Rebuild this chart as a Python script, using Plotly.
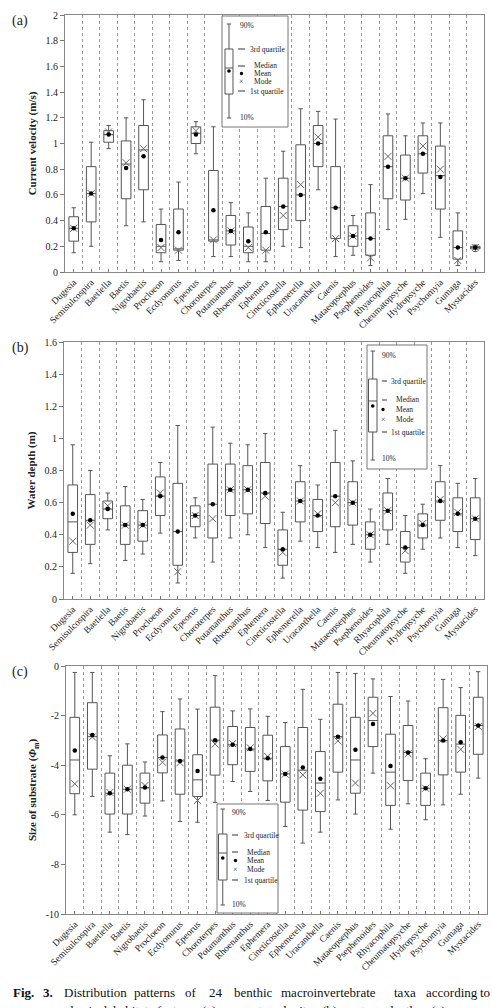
import plotly.graph_objects as go

W, H = 492, 1008
FONT = "Liberation Serif"

taxa = ["Dugesia", "Semisulcospira", "Baetiella", "Baetis", "Nigrobaetis", "Procloeon",
        "Ecdyonurus", "Epeorus", "Choroterpes", "Potamanthus", "Rhoenanthus", "Ephemera",
        "Cincticostella", "Ephemerella", "Uracanthella", "Caenis", "Mataeopsephus",
        "Psephenoides", "Rhyacophila", "Cheumatopsyche", "Hydropsyche", "Psychomyia",
        "Gumaga", "Mystacides"]

# (a) current velocity (m/s)
vel_p10 = [0.15, 0.20, 0.96, 0.36, 0.39, 0.08, 0.09, 0.92, 0.12, 0.12, 0.08, 0.08, 0.20, 0.19, 0.64, 0.12, 0.13, 0.05, 0.33, 0.41, 0.61, 0.27, 0.05, 0.16]
vel_q1 = [0.24, 0.39, 1.01, 0.57, 0.64, 0.15, 0.17, 1.00, 0.24, 0.21, 0.15, 0.17, 0.33, 0.40, 0.82, 0.26, 0.20, 0.13, 0.57, 0.56, 0.77, 0.49, 0.10, 0.18]
vel_med = [0.34, 0.61, 1.07, 0.84, 0.95, 0.20, 0.18, 1.08, 0.25, 0.32, 0.20, 0.30, 0.51, 0.60, 1.00, 0.50, 0.28, 0.26, 0.82, 0.73, 0.92, 0.75, 0.19, 0.19]
vel_q3 = [0.43, 0.82, 1.10, 1.02, 1.14, 0.37, 0.49, 1.13, 0.79, 0.44, 0.35, 0.51, 0.73, 0.99, 1.14, 0.82, 0.36, 0.46, 1.06, 0.91, 1.06, 0.98, 0.32, 0.20]
vel_p90 = [0.50, 1.01, 1.14, 1.20, 1.34, 0.49, 0.70, 1.17, 1.13, 0.54, 0.46, 0.73, 0.94, 1.27, 1.25, 1.19, 0.44, 0.68, 1.23, 1.06, 1.16, 1.16, 0.46, 0.21]
vel_mean = [0.34, 0.61, 1.07, 0.81, 0.90, 0.25, 0.31, 1.07, 0.48, 0.32, 0.24, 0.31, 0.51, 0.60, 1.00, 0.50, 0.28, 0.26, 0.82, 0.73, 0.92, 0.74, 0.19, 0.19]
vel_mode = [0.34, 0.61, 1.09, 0.85, 0.96, 0.19, 0.17, 1.10, 0.25, 0.32, 0.19, 0.17, 0.44, 0.68, 1.05, 0.26, 0.28, 0.11, 0.90, 0.73, 0.98, 0.80, 0.09, 0.19]

# (b) water depth (m)
dep_p10 = [0.16, 0.22, 0.43, 0.24, 0.28, 0.41, 0.10, 0.38, 0.23, 0.38, 0.40, 0.32, 0.13, 0.36, 0.32, 0.29, 0.34, 0.23, 0.34, 0.16, 0.31, 0.38, 0.32, 0.27]
dep_q1 = [0.29, 0.34, 0.50, 0.34, 0.36, 0.52, 0.21, 0.45, 0.38, 0.52, 0.53, 0.47, 0.21, 0.48, 0.42, 0.45, 0.46, 0.31, 0.43, 0.23, 0.38, 0.49, 0.42, 0.37]
dep_med = [0.48, 0.49, 0.56, 0.46, 0.46, 0.64, 0.42, 0.52, 0.59, 0.68, 0.68, 0.66, 0.31, 0.61, 0.52, 0.64, 0.60, 0.40, 0.55, 0.32, 0.46, 0.61, 0.53, 0.50]
dep_q3 = [0.71, 0.65, 0.61, 0.58, 0.55, 0.76, 0.72, 0.58, 0.84, 0.84, 0.83, 0.85, 0.43, 0.73, 0.62, 0.85, 0.73, 0.48, 0.66, 0.42, 0.53, 0.73, 0.63, 0.63]
dep_p90 = [0.96, 0.80, 0.66, 0.70, 0.62, 0.85, 1.08, 0.63, 1.07, 0.97, 0.96, 1.03, 0.54, 0.83, 0.71, 1.05, 0.86, 0.56, 0.75, 0.52, 0.59, 0.83, 0.72, 0.75]
dep_mean = [0.53, 0.49, 0.56, 0.46, 0.46, 0.64, 0.42, 0.52, 0.59, 0.68, 0.68, 0.66, 0.31, 0.61, 0.52, 0.64, 0.60, 0.40, 0.55, 0.32, 0.46, 0.61, 0.53, 0.50]
dep_mode = [0.36, 0.46, 0.58, 0.46, 0.46, 0.66, 0.17, 0.52, 0.50, 0.68, 0.68, 0.64, 0.29, 0.61, 0.53, 0.60, 0.60, 0.40, 0.55, 0.30, 0.47, 0.62, 0.54, 0.50]

# (c) size of substrate (phi_m)
sub_p10 = [-6.00, -5.26, -6.70, -6.80, -6.05, -5.44, -6.27, -6.30, -5.50, -4.66, -5.06, -5.42, -6.47, -7.14, -6.70, -5.40, -5.97, -4.32, -6.58, -5.56, -6.20, -5.60, -5.17, -4.52]
sub_q1 = [-5.15, -4.16, -5.97, -5.97, -5.53, -4.31, -5.17, -5.26, -4.40, -3.98, -4.25, -4.63, -5.49, -5.81, -5.87, -4.28, -5.13, -3.25, -5.62, -4.62, -5.62, -4.39, -4.28, -3.56]
sub_med = [-3.79, -2.85, -5.13, -4.97, -4.90, -3.69, -3.83, -4.59, -2.99, -3.18, -3.35, -3.72, -4.35, -4.20, -4.72, -2.85, -3.79, -2.20, -4.28, -3.49, -4.93, -3.00, -3.15, -2.40]
sub_q3 = [-2.07, -1.48, -4.32, -4.00, -4.32, -2.78, -2.54, -3.58, -1.66, -2.44, -2.48, -2.79, -3.25, -2.48, -3.45, -1.54, -2.07, -1.26, -2.75, -2.40, -4.32, -1.68, -1.99, -1.26]
sub_p90 = [-0.26, -0.26, -3.62, -3.14, -3.87, -1.84, -1.33, -1.74, -0.39, -1.81, -1.73, -2.03, -2.28, -0.94, -2.15, -0.26, -0.30, -0.52, -1.23, -1.41, -3.74, -0.54, -0.87, -0.23]
sub_mean = [-3.41, -2.78, -5.13, -4.97, -4.90, -3.69, -3.83, -4.23, -2.99, -3.18, -3.35, -3.72, -4.35, -4.09, -4.55, -2.85, -3.38, -2.34, -4.03, -3.49, -4.93, -3.00, -3.07, -2.40]
sub_mode = [-4.75, -2.86, -5.10, -4.97, -4.82, -3.88, -3.90, -5.42, -3.15, -3.13, -3.30, -3.65, -4.36, -4.39, -5.13, -3.02, -4.72, -1.91, -4.83, -3.54, -4.93, -2.94, -3.36, -2.44]

vel_ticks = [0, 0.2, 0.4, 0.6, 0.8, 1, 1.2, 1.4, 1.6, 1.8, 2]
vel_ticktext = ["0", "0.2", "0.4", "0.6", "0.8", "1", "1.2", "1.4", "1.6", "1.8", "2"]
dep_ticks = [0, 0.2, 0.4, 0.6, 0.8, 1, 1.2, 1.4, 1.6]
dep_ticktext = ["0", "0.2", "0.4", "0.6", "0.8", "1", "1.2", "1.4", "1.6"]
sub_ticks = [-10, -8, -6, -4, -2, 0]
sub_ticktext = ["-10", "-8", "-6", "-4", "-2", "0"]

legend_words = ["90%", "3rd quartile", "Median", "Mean", "Mode", "1st quartile", "10%"]


def px(x):
    return x / W


def py(y):
    return 1 - y / H


panels = [
    dict(p10=vel_p10, q1=vel_q1, med=vel_med, q3=vel_q3, p90=vel_p90, mean=vel_mean, mode=vel_mode,
         ticks=vel_ticks, ticktext=vel_ticktext, rng=[0, 2], title="Current velocity (m/s)",
         xdom=(65, 484), ydom=(15, 272), label="(a)"),
    dict(p10=dep_p10, q1=dep_q1, med=dep_med, q3=dep_q3, p90=dep_p90, mean=dep_mean, mode=dep_mode,
         ticks=dep_ticks, ticktext=dep_ticktext, rng=[0, 1.6], title="Water depth (m)",
         xdom=(64, 484), ydom=(342, 599), label="(b)"),
    dict(p10=sub_p10, q1=sub_q1, med=sub_med, q3=sub_q3, p90=sub_p90, mean=sub_mean, mode=sub_mode,
         ticks=sub_ticks, ticktext=sub_ticktext, rng=[-10, 0],
         title="Size of substrate (<i>Φ</i><sub>m</sub>)",
         xdom=(66, 487), ydom=(666, 914), label="(c)"),
]

fig = go.Figure()
xs = list(range(len(taxa)))
layout = dict(width=W, height=H, margin=dict(l=0, r=0, t=0, b=0, autoexpand=False),
              paper_bgcolor="white", plot_bgcolor="white", showlegend=False,
              font=dict(family=FONT, color="#222"))
shapes = []
annotations = []

for k, p in enumerate(panels):
    sfx = "" if k == 0 else str(k + 1)
    xa, ya = "x" + sfx, "y" + sfx
    fig.add_trace(go.Box(
        x=xs, q1=p["q1"], median=p["med"], q3=p["q3"],
        lowerfence=p["p10"], upperfence=p["p90"],
        width=0.55, whiskerwidth=0.45, boxpoints=False,
        line=dict(color="#555", width=1), fillcolor="rgba(255,255,255,0)",
        xaxis=xa, yaxis=ya, hoverinfo="skip"))
    fig.add_trace(go.Scatter(
        x=xs, y=p["mode"], mode="markers", xaxis=xa, yaxis=ya,
        marker=dict(symbol="x-thin-open", size=7, color="#666", line=dict(width=1, color="#666"))))
    fig.add_trace(go.Scatter(
        x=xs, y=p["mean"], mode="markers", xaxis=xa, yaxis=ya,
        marker=dict(symbol="circle", size=4.5, color="black")))

    layout["xaxis" + sfx] = dict(
        domain=[px(p["xdom"][0]), px(p["xdom"][1])], anchor=ya, automargin=False,
        range=[-0.5, len(taxa) - 0.5], tickmode="array", tickvals=xs, ticktext=taxa,
        tickangle=-45, ticks="inside", ticklen=3, tickcolor="#777",
        tickfont=dict(family=FONT, size=9.5, color="#222"),
        showline=True, mirror=True, linecolor="#888", linewidth=1,
        showgrid=False, zeroline=False,
        minor=dict(tickmode="array", tickvals=[i + 0.5 for i in range(len(taxa) - 1)],
                   showgrid=True, griddash="dot", gridcolor="#999", gridwidth=1, ticks=""))
    layout["yaxis" + sfx] = dict(
        domain=[py(p["ydom"][1]), py(p["ydom"][0])], anchor=xa, automargin=False,
        range=p["rng"], tickmode="array", tickvals=p["ticks"], ticktext=p["ticktext"],
        ticks="outside", ticklen=4, tickcolor="#777",
        tickfont=dict(family=FONT, size=10, color="#222"),
        showline=True, mirror=True, linecolor="#888", linewidth=1,
        showgrid=False, zeroline=False,
        title=dict(text="<b>" + p["title"] + "</b>", standoff=6,
                   font=dict(family=FONT, size=11, color="#222")))
    annotations.append(dict(text=p["label"], x=px(10), y=py(p["ydom"][0] + 6), xref="paper", yref="paper",
                            xanchor="left", yanchor="middle", showarrow=False,
                            font=dict(family=FONT, size=14, color="#222")))

# key insets (pixel layout per panel)
keys = [
    dict(border=(222, 16, 288, 127), gx=(225, 233), caps=(24, 118), box=(49, 94), med=68, mean=71,
         dash=(238, 245), dot_x=241.5, ylab=(25, 49, 66, 73.5, 81, 91, 117), tx=(238, 248, 252)),
    dict(border=(367, 345, 427, 469), gx=(368.5, 377), caps=(351, 460), box=(379, 432), med=401, mean=406,
         dash=(382, 387), dot_x=383, ylab=(355, 381, 400, 409.5, 419.5, 432, 459), tx=(380, 389, 394)),
    dict(border=(217, 804, 278, 913), gx=(218.5, 227), caps=(809, 905), box=(834, 880), med=853, mean=858,
         dash=(232, 238), dot_x=235.5, ylab=(812, 835, 852, 860.5, 869, 880, 904), tx=(230, 242, 245)),
]
lc = "#555"
for kd in keys:
    x0, y0, x1, y1 = kd["border"]
    shapes.append(dict(type="rect", xref="paper", yref="paper", x0=px(x0), x1=px(x1), y0=py(y1), y1=py(y0),
                       line=dict(color="#777", width=1), fillcolor="white", layer="above"))
    gx0, gx1 = kd["gx"]
    gc = (gx0 + gx1) / 2
    cw = 2.2
    shapes.append(dict(type="line", xref="paper", yref="paper", x0=px(gc), x1=px(gc),
                       y0=py(kd["caps"][0]), y1=py(kd["caps"][1]), line=dict(color=lc, width=1), layer="above"))
    for cy in kd["caps"]:
        shapes.append(dict(type="line", xref="paper", yref="paper", x0=px(gc - cw), x1=px(gc + cw),
                           y0=py(cy), y1=py(cy), line=dict(color=lc, width=1), layer="above"))
    shapes.append(dict(type="rect", xref="paper", yref="paper", x0=px(gx0), x1=px(gx1),
                       y0=py(kd["box"][1]), y1=py(kd["box"][0]), line=dict(color=lc, width=1),
                       fillcolor="white", layer="above"))
    shapes.append(dict(type="line", xref="paper", yref="paper", x0=px(gx0), x1=px(gx1),
                       y0=py(kd["med"]), y1=py(kd["med"]), line=dict(color=lc, width=1), layer="above"))
    shapes.append(dict(type="circle", xref="paper", yref="paper", x0=px(gc - 1.8), x1=px(gc + 1.8),
                       y0=py(kd["mean"] + 1.8), y1=py(kd["mean"] - 1.8), line=dict(color="black", width=0),
                       fillcolor="black", layer="above"))
    d0, d1 = kd["dash"]
    yl = kd["ylab"]
    for yy in (yl[1], yl[2], yl[5]):
        shapes.append(dict(type="line", xref="paper", yref="paper", x0=px(d0), x1=px(d1),
                           y0=py(yy), y1=py(yy), line=dict(color="#333", width=1), layer="above"))
    shapes.append(dict(type="circle", xref="paper", yref="paper", x0=px(kd["dot_x"] - 1.7),
                       x1=px(kd["dot_x"] + 1.7), y0=py(yl[3] + 1.7), y1=py(yl[3] - 1.7),
                       line=dict(color="black", width=0), fillcolor="black", layer="above"))
    annotations.append(dict(text="×", x=px(kd["dot_x"]), y=py(yl[4]), xref="paper", yref="paper",
                            xanchor="center", yanchor="middle", showarrow=False,
                            font=dict(family=FONT, size=8, color="#333")))
    tx = kd["tx"]
    xpos = [tx[0], tx[1], tx[2], tx[2], tx[2], tx[1], tx[0]]
    for word, xx, yy in zip(legend_words, xpos, yl):
        annotations.append(dict(text=word, x=px(xx), y=py(yy), xref="paper", yref="paper",
                                xanchor="left", yanchor="middle", showarrow=False,
                                font=dict(family=FONT, size=7.5, color="#222")))

# caption (justified words)
cap1 = ["<b>Fig.</b>", "<b>3.</b>", "Distribution", "patterns", "of", "24", "benthic",
        "macroinvertebrate", "taxa", "according", "to"]
cap1_x = [12, 42, 63, 133, 184, 208, 233, 280, 393, 425, 479]
cap2 = ["physical", "habitat", "factors", "(a)", "current", "velocity,", "(b)", "water", "depth,", "(c)", "mean"]
cap2_x = [63, 112, 156, 201, 224, 270, 321, 345, 386, 430, 458]
for w, xx in zip(cap1, cap1_x):
    annotations.append(dict(text=w, x=px(xx), y=py(992), xref="paper", yref="paper",
                            xanchor="left", yanchor="middle", showarrow=False, borderpad=0,
                            font=dict(family=FONT, size=13, color="#111")))
for w, xx in zip(cap2, cap2_x):
    annotations.append(dict(text=w, x=px(xx), y=py(1010), xref="paper", yref="paper",
                            xanchor="left", yanchor="middle", showarrow=False, borderpad=0,
                            font=dict(family=FONT, size=13, color="#111")))

layout["shapes"] = shapes
layout["annotations"] = annotations
fig.update_layout(**layout)
fig.write_html("out.html")
